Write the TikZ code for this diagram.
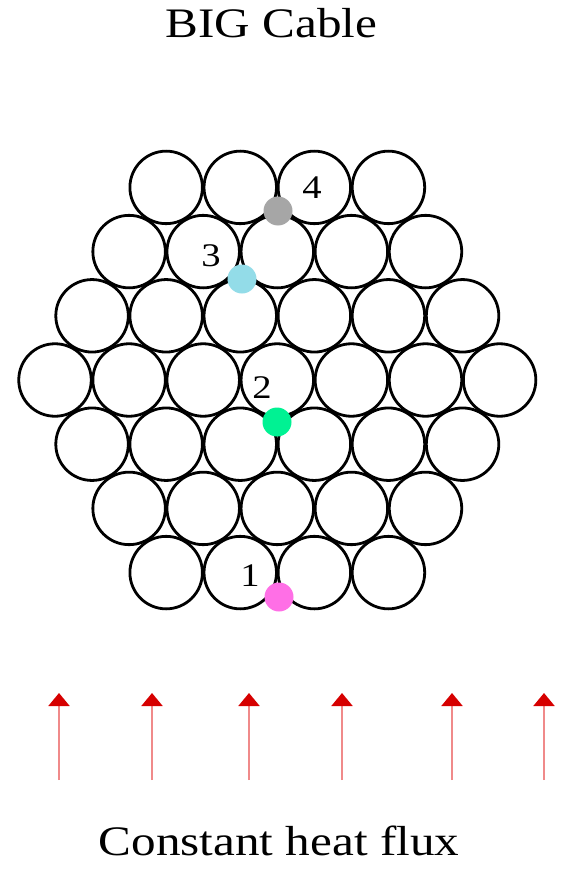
\documentclass[tikz,border=0pt]{standalone}
\usepackage{fontspec}
\setmainfont[FakeStretch=1.17]{Liberation Serif}
\usepackage{xcolor}
\usepackage{tikz}
\usetikzlibrary{arrows.meta,positioning}
\definecolor{cbGray}{HTML}{A6A6A6}
\definecolor{cbCyan}{HTML}{93DCE8}
\definecolor{cbGreen}{HTML}{00F293}
\definecolor{cbPink}{HTML}{FF6FE6}
\definecolor{cbHead}{HTML}{D60000}
\definecolor{cbShaft}{HTML}{F08A8A}

\begin{document}
\begin{tikzpicture}[x=1pt,y=-1pt,
    strand/.style={draw=black,circle,line width=2.8pt,minimum size=72.5pt,inner sep=0pt},
    probe/.style={circle,inner sep=0pt,minimum size=29pt},
    tag/.style={inner sep=0pt,font=\fontsize{33}{33}\selectfont},
    caption/.style={inner sep=0pt,anchor=base,font=\fontsize{42}{42}\selectfont},
    flux/.style={draw=cbShaft,line width=2pt,-{Triangle[width=21pt,length=13pt,color=cbHead]}}]
    \useasboundingbox (0,0) rectangle (564,872);

    \node[caption] (title) at (271.5,38) {BIG Cable};

    % strands, hexagonal bundle 4-5-6-7-6-5-4
    \foreach \r in {0,...,6}{
      \pgfmathtruncatemacro{\off}{abs(\r-3)}
      \pgfmathtruncatemacro{\num}{6-\off}
      \foreach \k in {0,...,\num}{
        \node[strand] (s\r-\k) at ({55+37.05*\off+74.1*\k},{380+64.2*(\r-3)}) {};
      }
    }

    % measuring points
    \node[probe,fill=cbGray]  (p4) at (278,211) {};
    \node[probe,fill=cbCyan]  (p3) at (242,279) {};
    \node[probe,fill=cbGreen] (p2) at (277,422) {};
    \node[probe,fill=cbPink]  (p1) at (279,597) {};
    \node[tag] (t4) at (312,188) {4};
    \node[tag] (t3) at (211,256) {3};
    \node[tag] (t2) at (262,388) {2};
    \node[tag] (t1) at (250,576) {1};

    % heat flux arrows
    \foreach \x [count=\i] in {59,152,249,342,452,544}{
      \coordinate (a\i) at (\x,780);
      \coordinate (b\i) at (\x,693);
      \draw[flux] (a\i) -- (b\i);
    }

    \node[caption] (flux) at (279,855) {Constant heat flux};
  \end{tikzpicture}
\end{document}
